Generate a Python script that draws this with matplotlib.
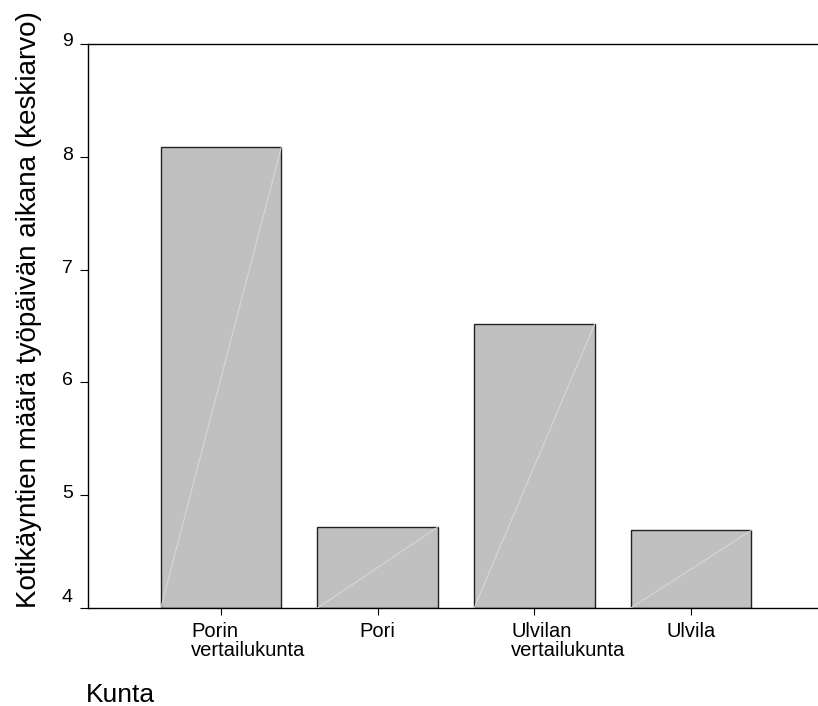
import matplotlib
matplotlib.use("Agg")
import matplotlib.pyplot as plt
from matplotlib.transforms import ScaledTranslation

plt.rcParams['font.family'] = ['Liberation Sans', 'DejaVu Sans']

categories = ["Porin\nvertailukunta", "Pori", "Ulvilan\nvertailukunta", "Ulvila"]
values = [8.09, 4.72, 6.52, 4.69]
yticks = [4, 5, 6, 7, 8, 9]
ylabel = "Kotikäyntien määrä työpäivän aikana (keskiarvo)"
xlabel = "Kunta"

fig = plt.figure(figsize=(8.18, 7.06), dpi=100)
ax = fig.add_axes([88/818, 1 - 608/706, 1 - 88/818, (608 - 44)/706])

x = list(range(len(categories)))
width = 0.77
base = 4
bars = ax.bar(x, [v - base for v in values], bottom=base, width=width,
              color="#c0c0c0", edgecolor="#222222", linewidth=1.0, zorder=2)
for xi, v in zip(x, values):
    ax.plot([xi - width/2, xi + width/2], [base, v], color="#dadada",
            linewidth=0.7, zorder=3)

ax.set_xlim(-0.85, 3.81)
ax.set_ylim(4, 9)
ax.set_yticks(yticks)
ax.set_yticklabels([str(t) for t in yticks])
ax.set_xticks(x)
ax.set_xticklabels(categories, linespacing=1.0, ha="center", multialignment="left")

ax.spines["right"].set_visible(False)
for s in ["left", "top", "bottom"]:
    ax.spines[s].set_color("black")
    ax.spines[s].set_linewidth(1.0)

ax.tick_params(axis="y", direction="out", length=5.5, width=0.8, labelsize=14, pad=5.5)
ax.tick_params(axis="x", direction="out", length=5, width=0.8, labelsize=14.5, pad=5)

# shift multi-line labels right (left-aligned look of reference)
x_offsets_px = [27, 0, 34, 0]
for lab, dx in zip(ax.get_xticklabels(), x_offsets_px):
    lab.set_transform(lab.get_transform() + ScaledTranslation(dx / 100, 0, fig.dpi_scale_trans))
y_offsets_px = [13, 3.5, 3.5, 3.5, 3.5, 4.5]
for lab, dy in zip(ax.get_yticklabels(), y_offsets_px):
    lab.set_transform(lab.get_transform() + ScaledTranslation(0, dy / 100, fig.dpi_scale_trans))

ax.set_ylabel(ylabel, fontsize=20, loc="bottom", labelpad=14)
fig.text(86/818, 1 - 702/706, xlabel, fontsize=19, ha="left", va="baseline")

fig.savefig("out.png", dpi=100)
